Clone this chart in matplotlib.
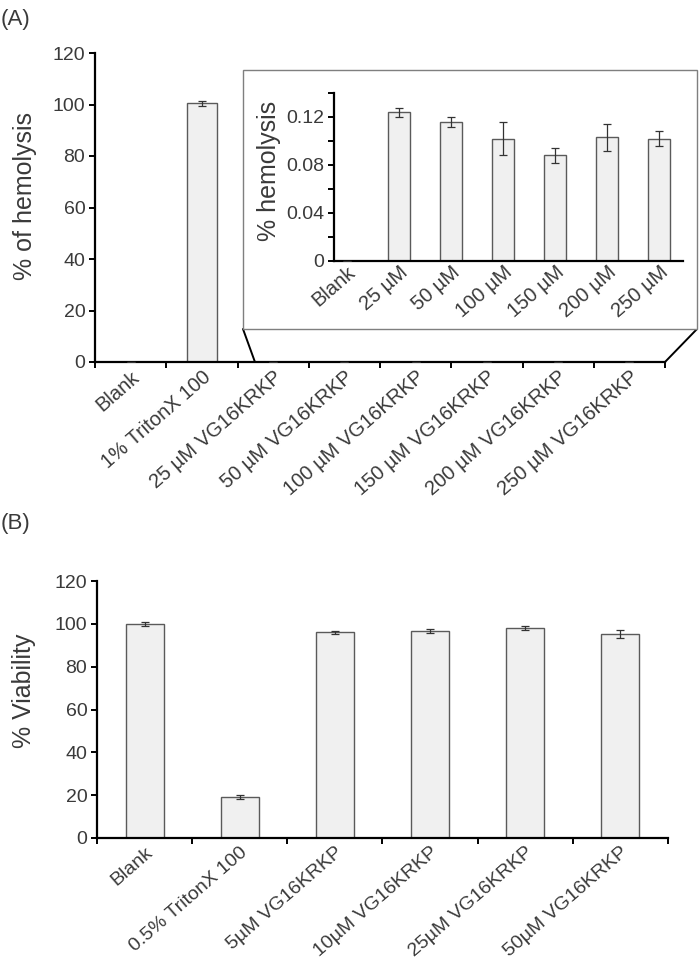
import matplotlib
matplotlib.use("Agg")
import matplotlib.pyplot as plt
from matplotlib.patches import Rectangle, ConnectionPatch
from matplotlib.ticker import FixedLocator, MultipleLocator

plt.rcParams["font.family"] = ["Liberation Sans", "DejaVu Sans"]

W, H = 700, 964
INK = "#3a3a3a"
BAR = "#f0f0f0"
EDGE = "#5a5a5a"
ROT = 41

# (A) hemolise - painel principal
hem_labels = ["Blank", "1% TritonX 100", "25 \u00b5M VG16KRKP", "50 \u00b5M VG16KRKP",
              "100 \u00b5M VG16KRKP", "150 \u00b5M VG16KRKP", "200 \u00b5M VG16KRKP",
              "250 \u00b5M VG16KRKP"]
hem_vals = [0, 100.4, 0.124, 0.116, 0.102, 0.088, 0.103, 0.102]
hem_err = [0, 0.9, 0.0036, 0.0042, 0.0137, 0.0065, 0.011, 0.006]

# (A) inset (zoom nas concentracoes)
ins_labels = ["Blank", "25 \u00b5M", "50 \u00b5M", "100 \u00b5M", "150 \u00b5M", "200 \u00b5M", "250 \u00b5M"]
ins_vals = [0, 0.124, 0.116, 0.102, 0.088, 0.103, 0.102]
ins_err = [0, 0.0036, 0.0042, 0.0137, 0.0065, 0.011, 0.006]

# (B) viabilidade
via_labels = ["Blank", "0.5% TritonX 100", "5\u00b5M VG16KRKP", "10\u00b5M VG16KRKP",
              "25\u00b5M VG16KRKP", "50\u00b5M VG16KRKP"]
via_vals = [100.0, 19.0, 96.0, 96.6, 98.0, 95.2]
via_err = [1.0, 1.0, 0.7, 1.0, 0.9, 1.8]


def rect(l, t, r, b):
    # pixels (origem topo-esquerda) -> fracao da figura
    return [l / W, 1 - b / H, (r - l) / W, (b - t) / H]


def style(ax, fs=14):
    for s in ["top", "right"]:
        ax.spines[s].set_visible(False)
    for s in ["left", "bottom"]:
        ax.spines[s].set_linewidth(1.6)
        ax.spines[s].set_color("black")
    ax.tick_params(direction="out", length=4, width=1.4, colors="black",
                   labelcolor=INK, labelsize=fs, pad=3)


def bars(ax, vals, err, width):
    x = range(len(vals))
    ax.bar(x, vals, width=width, color=BAR, edgecolor=EDGE, linewidth=1.0, zorder=2)
    ax.errorbar(x, vals, yerr=err, fmt="none", ecolor="#333333", elinewidth=0.9,
                capsize=3, capthick=0.9, zorder=3)


def cat_xaxis(ax, labels, fs):
    n = len(labels)
    ax.set_xlim(-0.5, n - 0.5)
    ax.xaxis.set_major_locator(FixedLocator([i - 0.5 for i in range(n + 1)]))
    ax.xaxis.set_minor_locator(FixedLocator(list(range(n))))
    ax.set_xticklabels([], minor=False)
    ax.set_xticklabels(labels, minor=True, rotation=ROT, ha="right",
                       rotation_mode="anchor", fontsize=fs, color=INK)
    ax.tick_params(axis="x", which="minor", length=0, pad=4)


fig = plt.figure(figsize=(W / 100, H / 100), dpi=100)

# ---- (A) principal
axA = fig.add_axes(rect(95, 53, 665, 362))
bars(axA, hem_vals, hem_err, 0.42)
style(axA)
cat_xaxis(axA, hem_labels, 14.5)
axA.set_ylim(0, 120)
axA.yaxis.set_major_locator(MultipleLocator(20))
axA.set_ylabel("% of hemolysis", fontsize=18, color=INK, va="center")
axA.yaxis.set_label_coords(-0.123, 0.537)

# caixa do inset + linhas de ligacao
box = Rectangle((243 / W, 1 - 329 / H), (697 - 243) / W, (329 - 70) / H,
                transform=fig.transFigure, fc="white", ec="#7f7f7f", lw=1.0, zorder=1)
fig.patches.append(box)
for xb, xd in [(243, 1.745), (697, 7.5)]:
    fig.add_artist(ConnectionPatch(xyA=(xb / W, 1 - 329 / H), coordsA=fig.transFigure,
                                   xyB=(xd, 0), coordsB=axA.transData,
                                   color="black", lw=1.4))

# ---- (A) inset
axI = fig.add_axes(rect(334, 93, 683, 261))
axI.set_zorder(5)
axI.patch.set_alpha(0)
bars(axI, ins_vals, ins_err, 0.42)
style(axI)
axI.set_xlim(-0.25, len(ins_vals) - 0.54)
axI.set_xticks(range(len(ins_vals)))
axI.set_xticklabels(ins_labels, rotation=ROT, ha="right", rotation_mode="anchor",
                    fontsize=14.5, color=INK)
axI.tick_params(axis="x", length=0, pad=1)
axI.yaxis.set_minor_locator(MultipleLocator(0.02))
axI.set_ylim(0, 0.14)
axI.set_yticks([0, 0.04, 0.08, 0.12])
axI.set_yticklabels(["0", "0.04", "0.08", "0.12"])
axI.tick_params(axis="y", which="minor", direction="out", length=4, width=1.4)
axI.set_ylabel("% hemolysis", fontsize=18, color=INK, va="center")
axI.yaxis.set_label_coords(-0.186, 0.536)

# ---- (B)
axB = fig.add_axes(rect(97, 581, 668, 838))
bars(axB, via_vals, via_err, 0.4)
style(axB)
cat_xaxis(axB, via_labels, 14)
axB.set_ylim(0, 120)
axB.yaxis.set_major_locator(MultipleLocator(20))
axB.set_ylabel("% Viability", fontsize=18, color=INK, va="center")
axB.yaxis.set_label_coords(-0.128, 0.572)

fig.text(1 / W, 1 - 20 / H, "(A)", fontsize=16, color=INK, va="center", ha="left")
fig.text(1 / W, 1 - 523 / H, "(B)", fontsize=16, color=INK, va="center", ha="left")

fig.savefig("out.png", dpi=100, facecolor="white")
